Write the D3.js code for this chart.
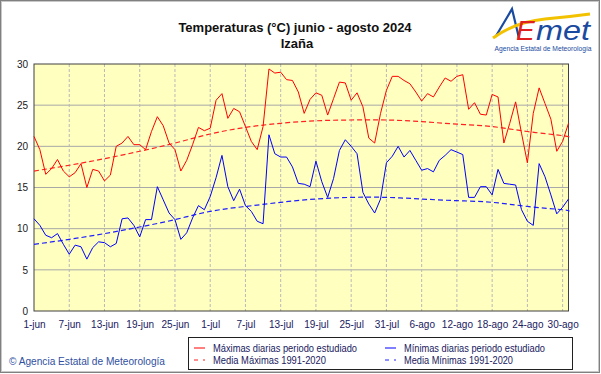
<!DOCTYPE html>
<html>
<head>
<meta charset="utf-8">
<script src="https://cdn.jsdelivr.net/npm/d3@7"></script>
<style>
body { margin: 0; background: #fff; }
text { font-family: Arial, "Liberation Sans", sans-serif; }
</style>
</head>
<body>
<script>
var w = 601;
var h = 374;

// day labels (every 6 days from 1-jun)
var tickLabels = ["1-jun", "7-jun", "13-jun", "19-jun", "25-jun", "1-jul", "7-jul", "13-jul",
  "19-jul", "25-jul", "31-jul", "6-ago", "12-ago", "18-ago", "24-ago", "30-ago"];

// daily maxima, 1-jun .. 31-ago
var maxDaily = [21.2, 19.6, 16.6, 17.3, 18.4, 17.0, 16.3, 16.8, 17.9, 15.0,
  17.2, 17.0, 15.8, 16.5, 20.0, 20.4, 21.2, 20.2, 20.2, 19.6,
  21.8, 23.6, 22.5, 20.4, 19.6, 17.0, 18.3, 20.2, 22.3, 21.9,
  22.2, 25.6, 26.4, 23.4, 24.6, 24.2, 22.4, 20.6, 19.6, 22.4,
  29.4, 28.9, 29.0, 28.1, 28.0, 26.6, 24.0, 25.7, 26.5, 26.2,
  23.8, 25.8, 27.8, 27.7, 25.6, 26.5, 24.8, 21.0, 20.4, 24.0,
  26.8, 28.5, 28.5, 28.0, 27.6, 26.6, 25.5, 26.4, 26.0, 27.2,
  28.3, 27.9, 28.5, 28.7, 24.5, 25.3, 23.9, 23.8, 26.3, 26.0,
  20.4, 22.8, 25.4, 21.6, 18.0, 24.0, 27.1, 25.2, 23.3, 19.4,
  20.6, 22.8];

// daily minima, 1-jun .. 31-ago
var minDaily = [11.2, 10.4, 9.2, 8.9, 9.4, 8.1, 6.9, 8.0, 7.8, 6.3,
  7.7, 8.4, 8.3, 7.8, 8.2, 11.2, 11.3, 10.4, 9.0, 11.1,
  11.1, 15.1, 13.5, 11.9, 11.1, 8.7, 9.5, 11.3, 12.8, 12.3,
  13.9, 16.2, 18.9, 15.1, 13.4, 14.8, 12.8, 12.1, 10.9, 10.6,
  21.4, 19.1, 18.7, 18.7, 17.5, 15.5, 15.4, 15.1, 18.2, 15.7,
  13.8, 16.1, 19.5, 20.8, 20.0, 19.1, 14.4, 13.0, 11.9, 13.6,
  18.0, 18.8, 20.0, 18.7, 19.5, 18.3, 17.1, 17.3, 16.9, 18.3,
  18.9, 19.6, 19.3, 19.0, 13.8, 13.8, 15.1, 15.1, 14.1, 17.2,
  15.5, 15.4, 15.3, 12.3, 10.9, 10.4, 17.9, 16.3, 14.1, 11.8,
  12.6, 13.6];

// 1991-2020 normals, read every 6 days (day index, value)
var normDays = [0, 6, 12, 18, 24, 30, 36, 42, 48, 54, 60, 66, 72, 78, 84, 90, 91];
var normMax = [17.0, 17.7, 18.5, 19.4, 20.4, 21.5, 22.3, 22.8, 23.1, 23.2, 23.2, 23.0, 22.7, 22.4, 21.8, 21.3, 21.1];
var normMin = [8.1, 8.7, 9.4, 10.2, 11.1, 12.1, 12.7, 13.2, 13.6, 13.8, 13.8, 13.6, 13.4, 13.2, 12.7, 12.3, 12.1];

var yTicks = [0, 5, 10, 15, 20, 25, 30];

var svg = d3.select("body").append("svg")
  .attr("width", w)
  .attr("height", h);

// outer frame
svg.append("rect")
  .attr("x", 0.5).attr("y", 0.5)
  .attr("width", w - 2).attr("height", h - 2)
  .attr("fill", "#fff")
  .attr("stroke", "#808080");
svg.append("rect")
  .attr("x", 1.5).attr("y", 1.5)
  .attr("width", w - 4).attr("height", h - 4)
  .attr("fill", "none")
  .attr("stroke", "#c8c8c8");

var x = d3.scaleLinear().domain([0, 91]).range([34, 568.5]);
var y = d3.scaleLinear().domain([0, 30]).range([311, 64]);

// plot background
svg.append("rect")
  .attr("x", x(0)).attr("y", y(30))
  .attr("width", x(91) - x(0)).attr("height", y(0) - y(30))
  .attr("fill", "#ffffc0");

// horizontal grid
svg.append("g").selectAll("line")
  .data(yTicks.slice(1, -1))
  .enter().append("line")
  .attr("x1", x(0)).attr("x2", x(91))
  .attr("y1", function(d) { return y(d); })
  .attr("y2", function(d) { return y(d); })
  .attr("stroke", "#a8a8a8");

// vertical grid (dashed)
svg.append("g").selectAll("line")
  .data(tickLabels.slice(1))
  .enter().append("line")
  .attr("x1", function(d, i) { return x((i + 1) * 6); })
  .attr("x2", function(d, i) { return x((i + 1) * 6); })
  .attr("y1", y(30)).attr("y2", y(0))
  .attr("stroke", "#b8b8b8")
  .attr("stroke-dasharray", "3,2");

svg.append("rect")
  .attr("x", x(0)).attr("y", y(30))
  .attr("width", x(91) - x(0)).attr("height", y(0) - y(30))
  .attr("fill", "none")
  .attr("stroke", "#404040");

// y axis
var yAxis = d3.axisLeft(y).tickValues(yTicks).tickSize(0).tickPadding(6);
var gy = svg.append("g")
  .attr("transform", "translate(" + x(0) + ",0)")
  .call(yAxis);
gy.select(".domain").remove();
gy.selectAll("text").attr("font-size", 10).attr("fill", "#202020");

// x axis
var xAxis = d3.axisBottom(x)
  .tickValues(d3.range(tickLabels.length).map(function(i) { return i * 6; }))
  .tickFormat(function(d, i) { return tickLabels[i]; })
  .tickSize(0).tickPadding(10);
var gx = svg.append("g")
  .attr("transform", "translate(0," + y(0) + ")")
  .call(xAxis);
gx.select(".domain").remove();
gx.selectAll("text").attr("font-size", 10).attr("fill", "#202060");

// lines
var line = d3.line()
  .x(function(d, i) { return x(i); })
  .y(function(d) { return y(d); });

var normLine = d3.line()
  .x(function(d) { return x(d[0]); })
  .y(function(d) { return y(d[1]); })
  .curve(d3.curveNatural);

svg.append("path")
  .datum(d3.zip(normDays, normMax))
  .attr("d", normLine)
  .attr("fill", "none").attr("stroke", "#ff2020")
  .attr("stroke-width", 1.2).attr("stroke-dasharray", "5,3");

svg.append("path")
  .datum(d3.zip(normDays, normMin))
  .attr("d", normLine)
  .attr("fill", "none").attr("stroke", "#2020ff")
  .attr("stroke-width", 1.2).attr("stroke-dasharray", "5,3");

svg.append("path")
  .datum(maxDaily)
  .attr("d", line)
  .attr("fill", "none").attr("stroke", "#ff0000").attr("stroke-width", 1);

svg.append("path")
  .datum(minDaily)
  .attr("d", line)
  .attr("fill", "none").attr("stroke", "#0000ff").attr("stroke-width", 1);

// titles
svg.append("text")
  .attr("x", 295).attr("y", 32)
  .attr("text-anchor", "middle")
  .attr("font-size", 13).attr("font-weight", "bold").attr("fill", "#101010")
  .text("Temperaturas (°C) junio - agosto 2024");
svg.append("text")
  .attr("x", 297).attr("y", 48)
  .attr("text-anchor", "middle")
  .attr("font-size", 13).attr("font-weight", "bold").attr("fill", "#101010")
  .text("Izaña");

// AEMET logo
var logo = svg.append("g");
logo.append("path")
  .attr("d", "M496,36 L512,9 L519,38")
  .attr("fill", "none").attr("stroke", "#1a4aa0").attr("stroke-width", 2.2)
  .attr("stroke-linecap", "round");
logo.append("path")
  .attr("d", "M493,38 Q515,22 545,19 Q568,17 590,14")
  .attr("fill", "none").attr("stroke", "#f2c200").attr("stroke-width", 3);
logo.append("text")
  .attr("x", 516).attr("y", 40)
  .attr("font-size", 28).attr("font-style", "italic").attr("fill", "#e02020")
  .attr("font-family", "'DejaVu Serif', serif")
  .text("E");
logo.append("text")
  .attr("x", 536).attr("y", 40)
  .attr("font-size", 28).attr("font-style", "italic").attr("fill", "#1a4aa0")
  .attr("font-family", "'DejaVu Serif', serif")
  .attr("textLength", 54).attr("lengthAdjust", "spacingAndGlyphs")
  .text("met");
logo.append("text")
  .attr("x", 543).attr("y", 51)
  .attr("text-anchor", "middle")
  .attr("font-size", 7).attr("fill", "#1a4aa0")
  .attr("textLength", 97).attr("lengthAdjust", "spacingAndGlyphs")
  .text("Agencia Estatal de Meteorología");

// copyright
svg.append("text")
  .attr("x", 9).attr("y", 365)
  .attr("font-size", 10).attr("fill", "#3050a0")
  .attr("textLength", 156).attr("lengthAdjust", "spacingAndGlyphs")
  .text("© Agencia Estatal de Meteorología");

// legend
svg.append("rect")
  .attr("x", 188.5).attr("y", 337.5)
  .attr("width", 384).attr("height", 32)
  .attr("fill", "#fff").attr("stroke", "#202020");

var legendItems = [
  { label: "Máximas diarias periodo estudiado", color: "#ff0000", dash: null, lx: 194, ly: 352, tl: 144 },
  { label: "Media Máximas 1991-2020", color: "#ff2020", dash: "4,5", lx: 194, ly: 364, tl: 113 },
  { label: "Mínimas diarias periodo estudiado", color: "#0000ff", dash: null, lx: 385, ly: 352, tl: 141 },
  { label: "Media Mínimas 1991-2020", color: "#2020ff", dash: "4,5", lx: 385, ly: 364, tl: 109 }
];
var lg = svg.append("g").selectAll("g")
  .data(legendItems)
  .enter().append("g");
lg.append("line")
  .attr("x1", function(d) { return d.lx; })
  .attr("x2", function(d) { return d.lx + 11; })
  .attr("y1", function(d) { return d.ly - 4; })
  .attr("y2", function(d) { return d.ly - 4; })
  .attr("stroke", function(d) { return d.color; })
  .attr("stroke-dasharray", function(d) { return d.dash; });
lg.append("text")
  .attr("x", function(d) { return d.lx + 19; })
  .attr("y", function(d) { return d.ly; })
  .attr("font-size", 10).attr("fill", "#202060")
  .attr("textLength", function(d) { return d.tl; })
  .attr("lengthAdjust", "spacingAndGlyphs")
  .text(function(d) { return d.label; });
</script>
</body>
</html>
